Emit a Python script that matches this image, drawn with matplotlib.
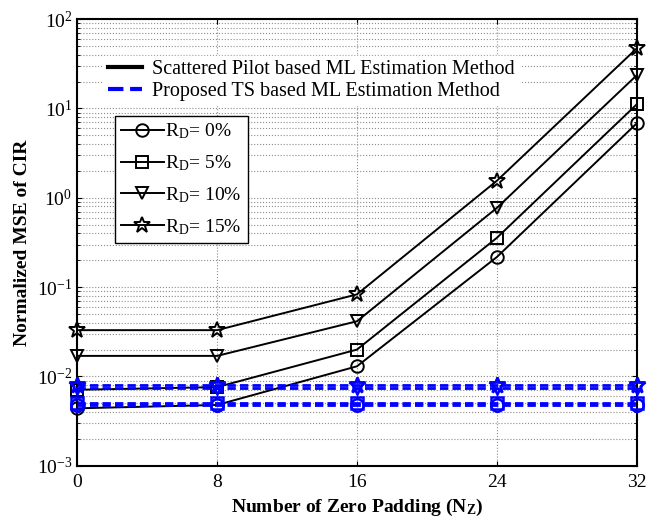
import matplotlib
matplotlib.use('Agg')
import matplotlib.pyplot as plt
from matplotlib.lines import Line2D

plt.rcParams['font.family'] = ['Liberation Serif', 'DejaVu Serif']
plt.rcParams['mathtext.fontset'] = 'custom'
plt.rcParams['mathtext.rm'] = 'Liberation Serif'
plt.rcParams['mathtext.it'] = 'Liberation Serif:italic'
plt.rcParams['mathtext.bf'] = 'Liberation Serif:bold'
plt.rcParams['axes.unicode_minus'] = False

# zero padding values
nz = [0, 8, 16, 24, 32]

# scattered pilot based (black, solid)
sp_rd0 = [0.0044, 0.0048, 0.013, 0.217, 6.8]
sp_rd5 = [0.0071, 0.0076, 0.020, 0.356, 11.1]
sp_rd10 = [0.017, 0.017, 0.0415, 0.77, 23.5]
sp_rd15 = [0.033, 0.033, 0.083, 1.55, 47.0]

# proposed TS based (blue, dashed)
ts_rd0 = [0.0048, 0.0048, 0.0048, 0.0048, 0.0048]
ts_rd5 = [0.0050, 0.0050, 0.0050, 0.0050, 0.0050]
ts_rd10 = [0.0074, 0.0074, 0.0074, 0.0074, 0.0074]
ts_rd15 = [0.0081, 0.0081, 0.0081, 0.0081, 0.0081]

rd_labels = ['R$_\\mathrm{D}$= 0%', 'R$_\\mathrm{D}$= 5%',
             'R$_\\mathrm{D}$= 10%', 'R$_\\mathrm{D}$= 15%']
markers = ['o', 's', 'v', '*']

fig = plt.figure(figsize=(6.49, 5.17), dpi=100)
ax = fig.add_axes([0.119, 0.099, 0.862, 0.864])

for ys, m in zip([sp_rd0, sp_rd5, sp_rd10, sp_rd15], markers):
    ax.plot(nz, ys, color='black', lw=1.4, marker=m, ms=12 if m == '*' else 9,
            mfc='none', mec='black', mew=1.4, clip_on=False, zorder=3)
for ys, m in zip([ts_rd0, ts_rd5, ts_rd10, ts_rd15], markers):
    ax.plot(nz, ys, color='blue', lw=2.0, ls=(0, (3, 1.5)), marker=m,
            ms=12 if m == '*' else 9,
            mfc='none', mec='blue', mew=1.8, clip_on=False, zorder=4)

ax.set_yscale('log')
ax.set_ylim(1e-3, 1e2)
ax.set_xlim(0, 32)
ax.set_xticks(nz)
ax.grid(True, which='major', color='0.55', ls=':', lw=0.8)
ax.grid(True, which='minor', axis='y', color='0.55', ls=':', lw=0.8)
ax.tick_params(which='both', direction='in', top=True, right=True, labelsize=14)
ax.tick_params(axis='x', pad=6)
for s in ax.spines.values():
    s.set_linewidth(1.5)

ax.set_xlabel('Number of Zero Padding (N$_\\mathbf{Z}$)', fontsize=14, fontweight='bold')
ax.set_ylabel('Normalized MSE of CIR', fontsize=14, fontweight='bold')

h1 = [Line2D([], [], color='black', lw=3),
      Line2D([], [], color='blue', lw=3, ls='--')]
leg1 = ax.legend(h1, ['Scattered Pilot based ML Estimation Method',
                      'Proposed TS based ML Estimation Method'],
                 loc='upper left', bbox_to_anchor=(0.03, 0.94), frameon=True,
                 fontsize=14.5, handlelength=1.7, handletextpad=0.5,
                 borderpad=0.2, labelspacing=0.15, fancybox=False)
leg1.get_frame().set_edgecolor('white')
leg1.get_frame().set_alpha(1)
ax.add_artist(leg1)

h2 = [Line2D([], [], color='black', lw=1.4, marker=m, ms=12 if m == '*' else 9,
             mfc='none', mec='black', mew=1.4) for m in markers]
leg2 = ax.legend(h2, rd_labels, loc='upper left', bbox_to_anchor=(0.05, 0.805),
                 fontsize=14, handlelength=2.2, handletextpad=0.1,
                 borderpad=0.3, labelspacing=0.62, fancybox=False, framealpha=1)
leg2.get_frame().set_edgecolor('black')
leg2.get_frame().set_linewidth(1.0)

plt.savefig('out.png', dpi=100)
plt.close()
